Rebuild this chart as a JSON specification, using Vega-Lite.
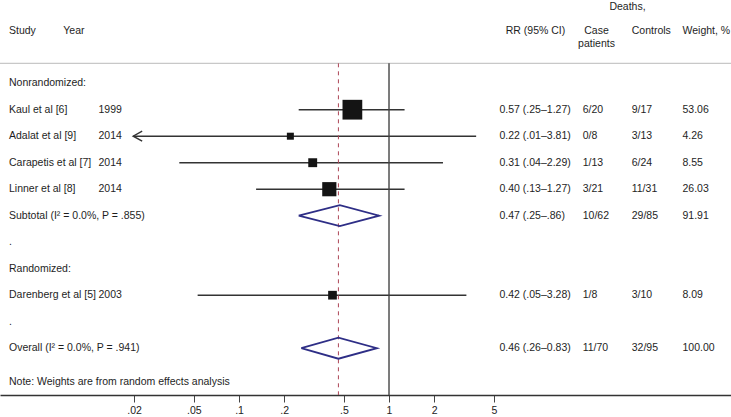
{
  "$schema": "https://vega.github.io/schema/vega-lite/v6.json",
  "width": 731,
  "height": 395,
  "autosize": {"type": "none"},
  "padding": {"left": 0, "top": 0, "right": 0, "bottom": 22},
  "background": "white",
  "config": {
    "view": {"stroke": null},
    "text": {"font": "Liberation Sans", "fontSize": 10.5, "color": "#1e1e1e", "baseline": "middle"}
  },
  "data": {"values": [{"one": 1}]},
  "datasets": {
    "labels": [
      {"row": -0.97, "label": "Study"},
      {"row": 1, "label": "Nonrandomized:"},
      {"row": 2, "label": "Kaul et al [6]"},
      {"row": 3, "label": "Adalat et al [9]"},
      {"row": 4, "label": "Carapetis et al [7]"},
      {"row": 5, "label": "Linner et al [8]"},
      {"row": 6, "label": "Subtotal (I² = 0.0%, P = .855)"},
      {"row": 7, "label": "."},
      {"row": 8, "label": "Randomized:"},
      {"row": 9, "label": "Darenberg et al [5]"},
      {"row": 10, "label": "."},
      {"row": 11, "label": "Overall (I² = 0.0%, P = .941)"},
      {"row": 12.275, "label": "Note: Weights are from random effects analysis"}
    ],
    "headers": [
      {"col": "year", "row": -0.97, "label": "Year"},
      {"col": "rr", "row": -0.97, "label": "RR (95% CI)"},
      {"col": "deaths", "row": -1.887, "label": "Deaths,"},
      {"col": "case", "row": -0.97, "label": "Case"},
      {"col": "case", "row": -0.468, "label": "patients"},
      {"col": "controls", "row": -0.97, "label": "Controls"},
      {"col": "weight", "row": -0.97, "label": "Weight, %"}
    ],
    "table": [
      {"kind": "study", "row": 2, "year": "1999", "rr": 0.57, "lo": 0.25, "hi": 1.27, "ci": "0.57 (.25–1.27)", "cases": "6/20", "controls": "9/17", "weight": 53.06},
      {"kind": "study", "row": 3, "year": "2014", "rr": 0.22, "lo": 0.0197, "hi": 3.81, "ci": "0.22 (.01–3.81)", "cases": "0/8", "controls": "3/13", "weight": 4.26, "clipped": true},
      {"kind": "study", "row": 4, "year": "2014", "rr": 0.31, "lo": 0.04, "hi": 2.29, "ci": "0.31 (.04–2.29)", "cases": "1/13", "controls": "6/24", "weight": 8.55},
      {"kind": "study", "row": 5, "year": "2014", "rr": 0.40, "lo": 0.13, "hi": 1.27, "ci": "0.40 (.13–1.27)", "cases": "3/21", "controls": "11/31", "weight": 26.03},
      {"kind": "pooled", "row": 6, "ci": "0.47 (.25–.86)", "cases": "10/62", "controls": "29/85", "weight": 91.91},
      {"kind": "study", "row": 9, "year": "2003", "rr": 0.42, "lo": 0.053, "hi": 3.28, "ci": "0.42 (.05–3.28)", "cases": "1/8", "controls": "3/10", "weight": 8.09},
      {"kind": "pooled", "row": 11, "ci": "0.46 (.26–0.83)", "cases": "11/70", "controls": "32/95", "weight": 100.0}
    ],
    "diamonds": [
      {"id": "Subtotal", "v": 1, "x": 0.25, "row": 6},
      {"id": "Subtotal", "v": 2, "x": 0.47, "row": 5.604},
      {"id": "Subtotal", "v": 3, "x": 0.86, "row": 6},
      {"id": "Subtotal", "v": 4, "x": 0.47, "row": 6.396},
      {"id": "Subtotal", "v": 5, "x": 0.25, "row": 6},
      {"id": "Overall", "v": 1, "x": 0.26, "row": 11},
      {"id": "Overall", "v": 2, "x": 0.46, "row": 10.604},
      {"id": "Overall", "v": 3, "x": 0.83, "row": 11},
      {"id": "Overall", "v": 4, "x": 0.46, "row": 11.396},
      {"id": "Overall", "v": 5, "x": 0.26, "row": 11}
    ]
  },
  "layer": [
    {
      "data": {"name": "table"},
      "transform": [{"filter": "datum.kind == 'study'"}],
      "mark": {"type": "rule", "color": "#333333", "strokeWidth": 1.4},
      "encoding": {
        "x": {
          "field": "lo", "type": "quantitative",
          "scale": {"type": "log", "domain": [0.002551, 190.5], "nice": false},
          "axis": {
            "values": [0.02, 0.05, 0.1, 0.2, 0.5, 1, 2, 5],
            "labelExpr": "datum.value < 1 ? substring(format(datum.value, '~g'), 1) : format(datum.value, '~g')",
            "title": null, "grid": false, "domain": true,
            "domainColor": "#333333", "domainWidth": 1.3,
            "tickColor": "#444444", "tickSize": 7, "tickWidth": 1,
            "labelFont": "Liberation Sans", "labelFontSize": 10.5, "labelColor": "#222222",
            "labelPadding": 3, "labelFlush": false, "labelOverlap": false
          }
        },
        "x2": {"field": "hi"},
        "y": {
          "field": "row", "type": "quantitative",
          "scale": {"domain": [-2.1396, 12.766], "reverse": true, "nice": false, "zero": false},
          "axis": null
        }
      }
    },
    {
      "mark": {"type": "rule", "color": "#c8c8c8", "strokeWidth": 1.3},
      "encoding": {
        "x": {"datum": 0.002551, "type": "quantitative"},
        "x2": {"datum": 190.5},
        "y": {"datum": 0.249, "type": "quantitative", "axis": null}
      }
    },
    {
      "mark": {"type": "rule", "color": "#444444", "strokeWidth": 1.4},
      "encoding": {
        "x": {"datum": 1, "type": "quantitative"},
        "y": {"datum": 0.249, "type": "quantitative", "axis": null},
        "y2": {"datum": 12.766}
      }
    },
    {
      "mark": {"type": "rule", "color": "#ad4656", "strokeWidth": 1, "strokeDash": [4, 4]},
      "encoding": {
        "x": {"datum": 0.46, "type": "quantitative"},
        "y": {"datum": 0.249, "type": "quantitative", "axis": null},
        "y2": {"datum": 12.766}
      }
    },
    {
      "data": {"name": "table"},
      "transform": [{"filter": "datum.kind == 'study'"}],
      "mark": {"type": "point", "shape": "square", "filled": true, "color": "#141414", "opacity": 1},
      "encoding": {
        "x": {"field": "rr", "type": "quantitative"},
        "y": {"field": "row", "type": "quantitative", "axis": null},
        "size": {"field": "weight", "type": "quantitative", "scale": {"domain": [4.26, 53.06], "range": [49, 390], "zero": false}, "legend": null}
      }
    },
    {
      "data": {"name": "table"},
      "transform": [{"filter": "datum.clipped"}],
      "mark": {"type": "point", "shape": "M1.8,-1L0,0L1.8,1", "filled": false, "stroke": "#333333", "strokeWidth": 1.4, "size": 100, "opacity": 1},
      "encoding": {
        "x": {"field": "lo", "type": "quantitative"},
        "y": {"field": "row", "type": "quantitative", "axis": null}
      }
    },
    {
      "data": {"name": "diamonds"},
      "mark": {"type": "line", "color": "#2e2e86", "strokeWidth": 1.8},
      "encoding": {
        "x": {"field": "x", "type": "quantitative"},
        "y": {"field": "row", "type": "quantitative", "axis": null},
        "order": {"field": "v", "type": "quantitative"},
        "detail": {"field": "id", "type": "nominal"}
      }
    },
    {
      "data": {"name": "labels"},
      "mark": {"type": "text", "align": "left"},
      "encoding": {
        "x": {"datum": 0.002928, "type": "quantitative"},
        "y": {"field": "row", "type": "quantitative", "axis": null},
        "text": {"field": "label"}
      }
    },
    {
      "data": {"name": "headers"},
      "transform": [{"filter": "datum.col == 'year'"}],
      "mark": {"type": "text", "align": "left"},
      "encoding": {
        "x": {"datum": 0.006741, "type": "quantitative"},
        "y": {"field": "row", "type": "quantitative", "axis": null},
        "text": {"field": "label"}
      }
    },
    {
      "data": {"name": "headers"},
      "transform": [{"filter": "datum.col == 'rr'"}],
      "mark": {"type": "text", "align": "center"},
      "encoding": {
        "x": {"datum": 9.478, "type": "quantitative"},
        "y": {"field": "row", "type": "quantitative", "axis": null},
        "text": {"field": "label"}
      }
    },
    {
      "data": {"name": "headers"},
      "transform": [{"filter": "datum.col == 'deaths'"}],
      "mark": {"type": "text", "align": "center"},
      "encoding": {
        "x": {"datum": 38.9, "type": "quantitative"},
        "y": {"field": "row", "type": "quantitative", "axis": null},
        "text": {"field": "label"}
      }
    },
    {
      "data": {"name": "headers"},
      "transform": [{"filter": "datum.col == 'case'"}],
      "mark": {"type": "text", "align": "center"},
      "encoding": {
        "x": {"datum": 24.17, "type": "quantitative"},
        "y": {"field": "row", "type": "quantitative", "axis": null},
        "text": {"field": "label"}
      }
    },
    {
      "data": {"name": "headers"},
      "transform": [{"filter": "datum.col == 'controls'"}],
      "mark": {"type": "text", "align": "left"},
      "encoding": {
        "x": {"datum": 41.5, "type": "quantitative"},
        "y": {"field": "row", "type": "quantitative", "axis": null},
        "text": {"field": "label"}
      }
    },
    {
      "data": {"name": "headers"},
      "transform": [{"filter": "datum.col == 'weight'"}],
      "mark": {"type": "text", "align": "left"},
      "encoding": {
        "x": {"datum": 90.5, "type": "quantitative"},
        "y": {"field": "row", "type": "quantitative", "axis": null},
        "text": {"field": "label"}
      }
    },
    {
      "data": {"name": "table"},
      "transform": [{"filter": "datum.kind == 'study'"}],
      "mark": {"type": "text", "align": "left"},
      "encoding": {
        "x": {"datum": 0.01157, "type": "quantitative"},
        "y": {"field": "row", "type": "quantitative", "axis": null},
        "text": {"field": "year"}
      }
    },
    {
      "data": {"name": "table"},
      "mark": {"type": "text", "align": "left"},
      "encoding": {
        "x": {"datum": 5.454, "type": "quantitative"},
        "y": {"field": "row", "type": "quantitative", "axis": null},
        "text": {"field": "ci"}
      }
    },
    {
      "data": {"name": "table"},
      "mark": {"type": "text", "align": "left"},
      "encoding": {
        "x": {"datum": 19.56, "type": "quantitative"},
        "y": {"field": "row", "type": "quantitative", "axis": null},
        "text": {"field": "cases"}
      }
    },
    {
      "data": {"name": "table"},
      "mark": {"type": "text", "align": "left"},
      "encoding": {
        "x": {"datum": 41.5, "type": "quantitative"},
        "y": {"field": "row", "type": "quantitative", "axis": null},
        "text": {"field": "controls"}
      }
    },
    {
      "data": {"name": "table"},
      "mark": {"type": "text", "align": "left"},
      "encoding": {
        "x": {"datum": 90.5, "type": "quantitative"},
        "y": {"field": "row", "type": "quantitative", "axis": null},
        "text": {"field": "weight", "format": ".2f"}
      }
    }
  ]
}
